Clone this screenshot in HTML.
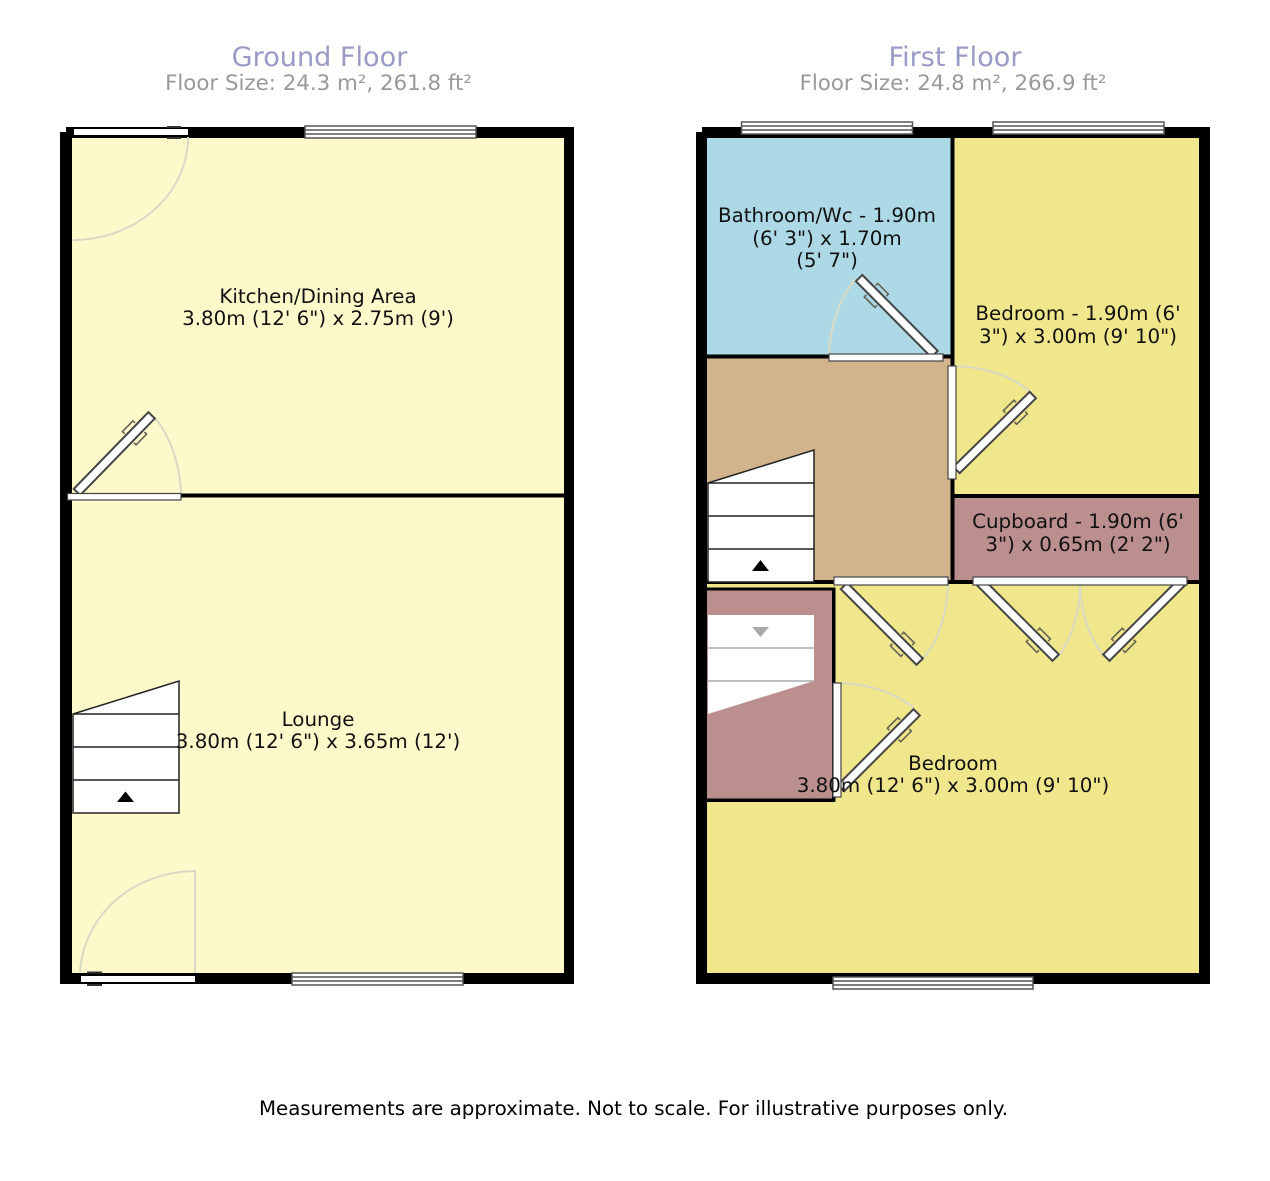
<!DOCTYPE html>
<html>
<head>
<meta charset="utf-8">
<style>
html,body{margin:0;padding:0;background:#fff}
svg{display:block}
text{font-family:"DejaVu Sans",sans-serif;text-anchor:middle}
.t{font-size:27.1px;fill:#9a9ac6}
.s{font-size:21.35px;fill:#999}
.r{font-size:19.85px;fill:#111}
.f{fill:#fff;stroke:#444;stroke-width:1.2}
.a{fill:none;stroke:#d9d9c4;stroke-width:2}
.h{fill:none;stroke:#665;stroke-width:1.6}
</style>
</head>
<body>
<svg width="1270" height="1181" viewBox="0 0 1270 1181" xmlns="http://www.w3.org/2000/svg">
<defs>
<g id="leaf">
<rect x="0" y="-4.500" width="107" height="9" fill="#fff" stroke="#444" stroke-width="2"/>
<path class="h" d="M75 -6.500V-9.500H90V-6.500M75 6.500V9.500H90V6.500"/>
</g>
<g id="win">
<rect x="0" y="0" width="171" height="12" fill="#fff" stroke="#555" stroke-width="1.500"/>
<path d="M0 4H171M0 8H171" stroke="#555" stroke-width="1.500"/>
</g>
</defs>

<text class="t" x="319.500" y="66">Ground Floor</text>
<text class="s" x="318.500" y="90">Floor Size: 24.3 m², 261.8 ft²</text>
<text class="t" x="955" y="66">First Floor</text>
<text class="s" x="953" y="90">Floor Size: 24.8 m², 266.9 ft²</text>

<!-- GROUND FLOOR -->
<path d="M60 132H66V127H574V984H60Z" fill="#000"/>
<rect x="72" y="138" width="492" height="835" fill="#fef9cb"/>
<rect x="72" y="493.500" width="492" height="4" fill="#000"/>

<!-- ground stairs -->
<path d="M73 714L179 681V813H73Z" fill="#fff" stroke="#222" stroke-width="1.500"/>
<path d="M73 714H179M73 747H179M73 780H179" stroke="#222" stroke-width="1.500"/>
<path d="M125.500 791.500L134 802H117Z" fill="#000"/>

<!-- ground windows -->
<use href="#win" x="305" y="126"/>
<use href="#win" x="292" y="973"/>

<!-- ground door top -->
<path class="a" d="M188 137C188 195 135 240 73 240"/>
<path class="h" d="M167 127H181M167 138H181" style="stroke:#333;stroke-width:2"/>
<rect x="74" y="129" width="114" height="6" fill="#fff"/>

<!-- ground door mid -->
<path class="a" d="M155 418C170 436 180 464 181 493"/>
<use href="#leaf" transform="translate(77 492) rotate(-45.800)"/>
<rect class="f" x="67.500" y="493.500" width="113.500" height="6.500"/>

<!-- ground door bottom -->
<path class="a" d="M80 972C84 915 132 872 195 871V973"/>
<path class="h" d="M87 972.500H102M87 985H102" style="stroke:#333;stroke-width:2"/>
<rect x="81" y="976" width="114" height="6" fill="#fff"/>

<text class="r" x="318" y="303">Kitchen/Dining Area</text>
<text class="r" x="318" y="325">3.80m (12' 6") x 2.75m (9')</text>
<text class="r" x="318" y="726">Lounge</text>
<text class="r" x="318" y="748">3.80m (12' 6") x 3.65m (12')</text>

<!-- FIRST FLOOR -->
<path d="M696 132H702V127H1210V984H696Z" fill="#000"/>
<rect x="707" y="138" width="492" height="835" fill="#f0e68c"/>
<rect x="707" y="138" width="245" height="218" fill="#add8e6"/>
<rect x="707" y="358" width="244" height="222" fill="#d2b48c"/>
<rect x="954" y="497" width="245" height="83" fill="#bc8f8f"/>
<rect x="707" y="590" width="126" height="209" fill="#bc8f8f"/>

<!-- first floor inner walls -->
<rect x="950.500" y="137" width="4" height="229" fill="#000"/>
<rect x="950.500" y="479" width="4" height="104" fill="#000"/>
<rect x="707" y="354.500" width="245" height="4" fill="#000"/>
<rect x="953" y="494" width="246" height="4" fill="#000"/>
<rect x="707" y="580" width="492" height="4" fill="#000"/>
<rect x="707" y="584" width="127" height="3.500" fill="#f0e68c"/>
<rect x="707" y="587.500" width="128" height="3" fill="#000"/>
<rect x="832" y="587.500" width="3.500" height="214" fill="#000"/>
<rect x="707" y="798.500" width="128" height="3.500" fill="#000"/>

<!-- first floor stairs up -->
<path d="M708 483L814 450V582H708Z" fill="#fff" stroke="#222" stroke-width="1.500"/>
<path d="M708 483H814M708 516H814M708 549H814" stroke="#222" stroke-width="1.500"/>
<path d="M760.500 560L769 571H752Z" fill="#000"/>

<!-- first floor stairs down -->
<path d="M708 615H814V681L708 714Z" fill="#fff"/>
<path d="M708 648H814M708 681H814" stroke="#aaa" stroke-width="1.500"/>
<path d="M760.500 637L769 627H752Z" fill="#aaa"/>

<!-- first floor windows -->
<use href="#win" x="741.500" y="122"/>
<use href="#win" x="993" y="122"/>
<g transform="translate(833 977)">
<rect width="200" height="12" fill="#fff" stroke="#555" stroke-width="1.500"/>
<path d="M0 4H200M0 8H200" stroke="#555" stroke-width="1.500"/>
</g>

<!-- bathroom door -->
<path class="a" d="M855 279C840 298 830 325 829 354"/>
<use href="#leaf" transform="translate(934.500 354) rotate(-134.800)"/>
<rect class="f" x="829" y="354" width="114" height="7"/>

<!-- bedroom door -->
<path class="a" d="M956 366C985 367 1012 376 1030 392"/>
<use href="#leaf" transform="translate(956.500 470) rotate(-44.500)"/>
<rect class="f" x="948" y="366" width="8" height="113"/>

<!-- landing door -->
<path class="a" d="M922 660C938 642 947 615 948 585"/>
<use href="#leaf" transform="translate(844 586) rotate(45)"/>
<rect class="f" x="834" y="577" width="114" height="8"/>

<!-- cupboard doors -->
<path class="a" d="M1057 658C1071 640 1080 614 1080 585"/>
<path class="a" d="M1105 657C1090 640 1081 614 1080 585"/>
<use href="#leaf" transform="translate(980 582) rotate(45)"/>
<use href="#leaf" transform="translate(1182 582) rotate(135)"/>
<rect class="f" x="973" y="577" width="214" height="8"/>

<!-- maroon cupboard door -->
<path class="a" d="M841 683C870 684 897 694 914 708"/>
<use href="#leaf" transform="translate(841 788) rotate(-45)"/>
<rect class="f" x="833" y="683" width="8" height="114"/>

<text class="r" x="827" y="222">Bathroom/Wc - 1.90m</text>
<text class="r" x="827" y="245">(6' 3") x 1.70m</text>
<text class="r" x="827" y="267">(5' 7")</text>
<text class="r" x="1078" y="320">Bedroom - 1.90m (6'</text>
<text class="r" x="1078" y="343">3") x 3.00m (9' 10")</text>
<text class="r" x="1078" y="528">Cupboard - 1.90m (6'</text>
<text class="r" x="1078" y="551">3") x 0.65m (2' 2")</text>
<text class="r" x="953" y="770">Bedroom</text>
<text class="r" x="953" y="792">3.80m (12' 6") x 3.00m (9' 10")</text>

<text class="r" x="633.500" y="1115" style="fill:#000;font-size:19.800px">Measurements are approximate. Not to scale. For illustrative purposes only.</text>
</svg>
</body>
</html>
